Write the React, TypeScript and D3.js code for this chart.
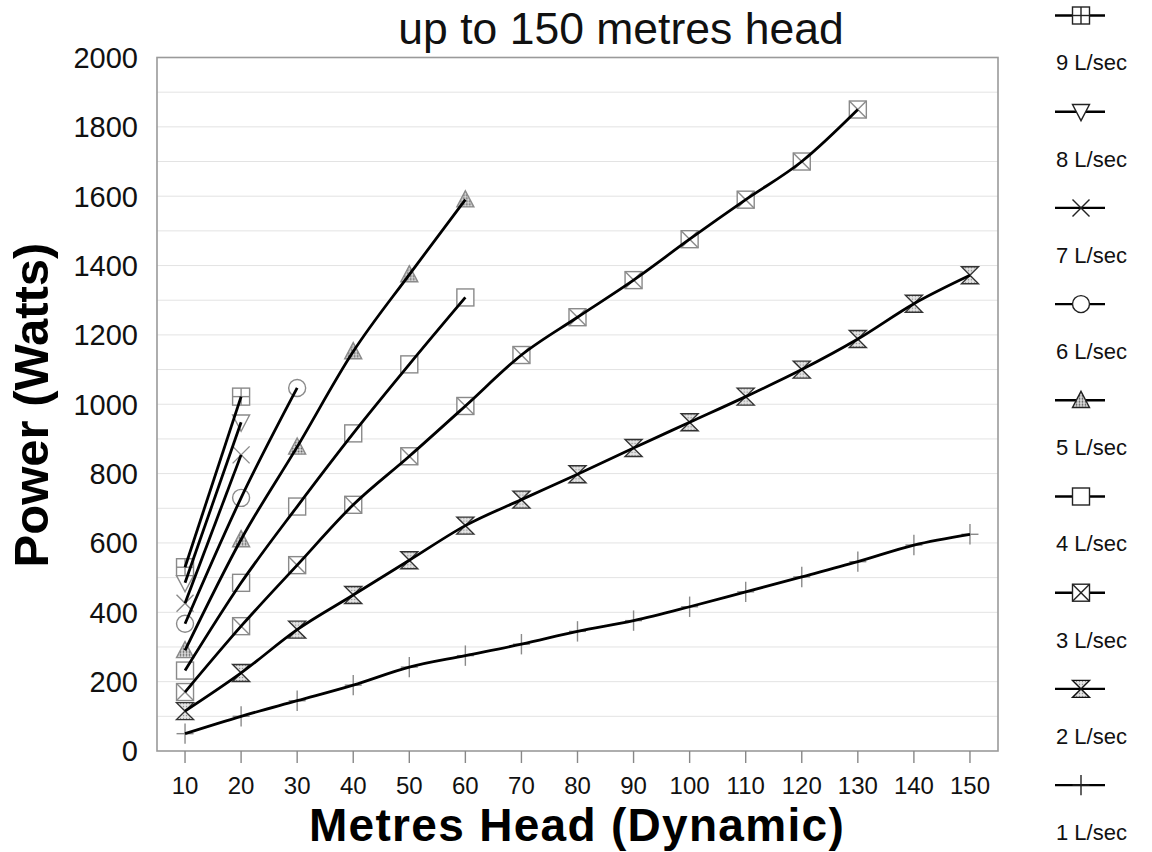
import React from 'react';
import * as d3 from 'd3';

const heads = [10, 20, 30, 40, 50, 60, 70, 80, 90, 100, 110, 120, 130, 140, 150];
const yTickValues = [0, 200, 400, 600, 800, 1000, 1200, 1400, 1600, 1800, 2000];

const flow1 = [50, 100, 145, 190, 242, 275, 308, 345, 376, 416, 459, 502, 546, 594, 625];
const flow2 = [115, 225, 350, 450, 550, 650, 725, 798, 874, 948, 1022, 1100, 1188, 1290, 1372];
const flow3 = [170, 360, 536, 710, 850, 995, 1142, 1251, 1358, 1476, 1590, 1700, 1850];
const flow4 = [232, 485, 705, 916, 1115, 1308];
const flow5 = [290, 610, 877, 1152, 1374, 1590];
const flow6 = [367, 730, 1047];
const flow7 = [426, 854];
const flow8 = [485, 948];
const flow9 = [530, 1022];

const seriesLabels = ['9 L/sec', '8 L/sec', '7 L/sec', '6 L/sec', '5 L/sec', '4 L/sec', '3 L/sec', '2 L/sec', '1 L/sec'];
const seriesValues = [flow9, flow8, flow7, flow6, flow5, flow4, flow3, flow2, flow1];
const seriesMarkers = ['sqplus', 'tridown', 'x', 'circle', 'triup', 'square', 'sqx', 'hourglass', 'plus'];

const W = 1152;
const H = 852;
const PL = 157, PR = 998, PT = 57.5, PB = 751;
const FONT = '"Liberation Sans", Arial, sans-serif';

function Marker({ type, cx, cy, color, legend }: { type: string; cx: number; cy: number; color: string; legend?: boolean }) {
  const s = 8.5;
  const sw = 1.4;
  const common = { stroke: color, strokeWidth: sw, fill: 'none' } as any;
  let el: any = null;
  switch (type) {
    case 'sqplus':
      el = (
        <g {...common}>
          <rect x={-s} y={-s} width={2 * s} height={2 * s} fill="white" />
          <line x1={0} y1={-s} x2={0} y2={s} />
          <line x1={-s} y1={0} x2={s} y2={0} />
        </g>
      );
      break;
    case 'tridown':
      el = <path d={`M${-s},${-s * 0.85}L${s},${-s * 0.85}L0,${s * 1.05}Z`} {...common} fill="white" />;
      break;
    case 'x':
      el = (
        <g {...common}>
          <line x1={-s} y1={-s} x2={s} y2={s} />
          <line x1={-s} y1={s} x2={s} y2={-s} />
        </g>
      );
      break;
    case 'circle':
      el = <circle r={s} {...common} fill="white" />;
      break;
    case 'triup':
      el = <path d={`M0,${-s * 1.05}L${s},${s * 0.85}L${-s},${s * 0.85}Z`} {...common} fill="url(#dots)" />;
      break;
    case 'square':
      el = <rect x={-s} y={-s} width={2 * s} height={2 * s} {...common} fill="white" />;
      break;
    case 'sqx':
      el = (
        <g {...common}>
          <rect x={-s} y={-s} width={2 * s} height={2 * s} fill="white" />
          <line x1={-s} y1={-s} x2={s} y2={s} />
          <line x1={-s} y1={s} x2={s} y2={-s} />
        </g>
      );
      break;
    case 'hourglass':
      el = (
        <path
          d={`M${-s},${-s}L${s},${-s}L${-s},${s}L${s},${s}Z`}
          stroke={legend ? '#111' : '#333'}
          strokeWidth={1.4}
          fill="url(#hatch)"
        />
      );
      break;
    case 'plus':
      el = (
        <g {...common}>
          <line x1={0} y1={-s * 1.2} x2={0} y2={s * 1.2} />
          <line x1={-s} y1={0} x2={s} y2={0} />
        </g>
      );
      break;
  }
  return <g transform={`translate(${cx},${cy})`}>{el}</g>;
}

export default function App() {
  const x = d3.scaleLinear().domain([5, 155]).range([PL, PR]);
  const y = d3.scaleLinear().domain([0, 2000]).range([PB, PT]);
  const gridValues = d3.range(100, 2000, 100);
  const lineGen = d3
    .line<number>()
    .x((_, i) => x(heads[i]))
    .y((d) => y(d))
    .curve(d3.curveMonotoneX);

  const legendX0 = 1055;
  const legendX1 = 1105;
  const legendMX = 1081;
  const legendY0 = 15.5;
  const legendStep = 96.2;

  return (
    <svg
      width={W}
      height={H}
      viewBox={`0 0 ${W} ${H}`}
      style={{ position: 'absolute', left: 0, top: 0, background: 'white' }}
      fontFamily={FONT}
    >
      <defs>
        <pattern id="dots" width="3" height="3" patternUnits="userSpaceOnUse">
          <rect width="3" height="3" fill="#dcdcdc" />
          <circle cx="1.5" cy="1.5" r="0.9" fill="#555" />
        </pattern>
        <pattern id="hatch" width="3" height="3" patternUnits="userSpaceOnUse">
          <rect width="3" height="3" fill="#e4e4e4" />
          <circle cx="1.5" cy="1.5" r="0.7" fill="#888" />
        </pattern>
      </defs>
      <rect x={0} y={0} width={W} height={H} fill="white" />

      {/* grid */}
      {gridValues.map((g) => (
        <line key={g} x1={PL} x2={PR} y1={y(g)} y2={y(g)} stroke="#e3e3e3" strokeWidth={1} />
      ))}

      {/* frame */}
      <rect x={PL} y={PT} width={PR - PL} height={PB - PT} fill="none" stroke="#9a9a9a" strokeWidth={1.6} />

      {/* x ticks */}
      {heads.map((h) => (
        <g key={h}>
          <line x1={x(h)} x2={x(h)} y1={PB} y2={PB + 12} stroke="#888" strokeWidth={1.4} />
          <text x={x(h)} y={794} textAnchor="middle" fontSize={24} fill="#111">
            {h}
          </text>
        </g>
      ))}

      {/* y tick labels */}
      {yTickValues.map((v) => (
        <text key={v} x={138} y={y(v)} dy="0.36em" textAnchor="end" fontSize={29} fill="#111">
          {v}
        </text>
      ))}

      {/* markers */}
      {seriesValues.map((vals, si) =>
        vals.map((v, i) => (
          <Marker key={`${si}-${i}`} type={seriesMarkers[si]} cx={x(heads[i])} cy={y(v)} color="#8a8a8a" />
        ))
      )}

      {/* lines */}
      {seriesValues.map((vals, si) => (
        <path key={si} d={lineGen(vals) || ''} fill="none" stroke="#000" strokeWidth={2.8} />
      ))}

      {/* title */}
      <text x={621} y={44} textAnchor="middle" fontSize={44.5} fill="#111">
        up to 150 metres head
      </text>

      {/* axis titles */}
      <text x={577} y={841} textAnchor="middle" fontSize={46} fontWeight="bold" letterSpacing={1.3} fill="#000">
        Metres Head (Dynamic)
      </text>
      <text
        transform="translate(30,405) rotate(-90)"
        dy="0.36em"
        textAnchor="middle"
        fontSize={49}
        fontWeight="bold"
        fill="#000"
      >
        Power (Watts)
      </text>

      {/* legend */}
      {seriesLabels.map((lab, i) => {
        const ly = legendY0 + i * legendStep;
        return (
          <g key={lab}>
            <line x1={legendX0} x2={legendX1} y1={ly} y2={ly} stroke="#000" strokeWidth={2.4} />
            <Marker type={seriesMarkers[i]} cx={legendMX} cy={ly} color="#222" legend />
            <text x={1056} y={ly + 47} dy="0.36em" fontSize={22} fill="#111">
              {lab}
            </text>
          </g>
        );
      })}
    </svg>
  );
}
